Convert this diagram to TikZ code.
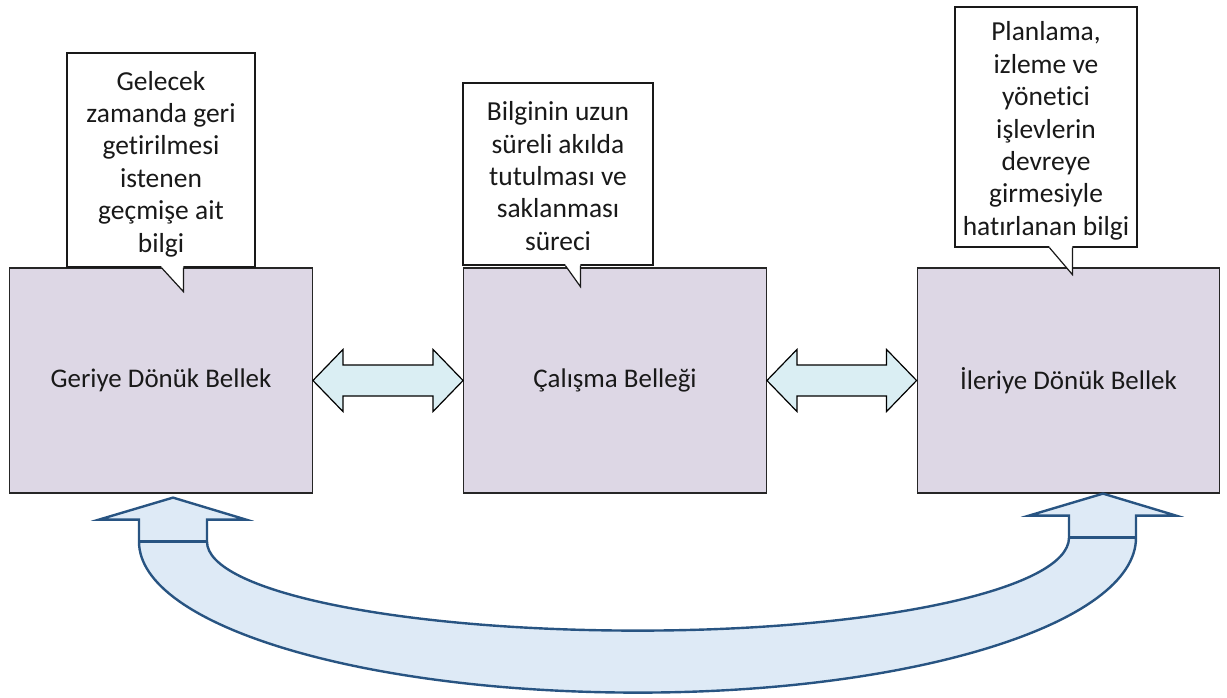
\documentclass[tikz,border=0pt]{standalone}
\usepackage{fontspec}
\setmainfont[Ligatures=NoCommon]{Carlito}
\usetikzlibrary{calc}
\definecolor{memfill}{RGB}{221,215,229}
\definecolor{linkfill}{RGB}{218,238,243}
\definecolor{loopfill}{RGB}{222,234,246}
\definecolor{loopline}{RGB}{40,84,130}
\begin{document}
\begin{tikzpicture}[x=0.75pt,y=-0.75pt,
  memory/.style={draw=black!85, line width=0.9pt, fill=memfill, inner sep=0pt,
    minimum width=227pt, minimum height=168.75pt, text=black!90,
    font=\fontsize{20.2}{24.4}\selectfont},
  note/.style={draw=black!90, line width=0.9pt, fill=white, inner sep=0pt},
  notetext/.style={align=center, text=black!90, inner sep=0pt,
    font=\fontsize{20.6}{24.3}\selectfont},
  pointer/.style={draw=black!90, line width=0.9pt, line join=miter},
  link/.style={draw=black, line width=0.9pt, fill=linkfill, line join=miter},
  loop/.style={draw=loopline, line width=1.8pt, fill=loopfill, line join=miter}]
\useasboundingbox (0,0) rectangle (1227,697);

% memory stores
\node[memory] (geri) at (161,380.5) {Geriye Dönük Bellek};
\node[memory] (calisma) at (615,380.5) {Çalışma Belleği};
\node[memory] (ileri) at (1068.5,380.5) {İleriye Dönük Bellek};

% callout frames
\node[note, minimum width=141pt, minimum height=160.5pt] (n1) at (161,160) {};
\node[note, minimum width=142.5pt, minimum height=136.5pt] (n2) at (558,174) {};
\node[note, minimum width=136.5pt, minimum height=180pt] (n3) at (1046,127) {};

% callout pointers
\foreach \n/\pl/\pr/\tip in {n1/95/117/24, n2/103/118/21, n3/95/118/27}{
  \fill[white] ($(\n.south west)+(\pl,-1.5)$) -- ($(\n.south west)+(\pr,-1.5)$)
    -- ($(\n.south west)+(\pr,\tip)$) -- ($(\n.south west)+(\pl,0)$) -- cycle;
  \draw[pointer] ($(\n.south west)+(\pl,0)$) -- ($(\n.south west)+(\pr,\tip)$)
    -- ($(\n.south west)+(\pr,0)$);
}

% callout texts
\node[notetext] (t1) at ($(n1.center)+(0,4)$)
  {Gelecek\\zamanda geri\\getirilmesi\\istenen\\geçmişe ait\\bilgi};
\node[notetext] (t2) at ($(n2.center)+(0,2)$)
  {Bilginin uzun\\süreli akılda\\tutulması ve\\saklanması\\süreci};
\node[notetext] (t3) at ($(n3.center)+(0,4)$)
  {Planlama,\\izleme ve\\yönetici\\işlevlerin\\devreye\\girmesiyle\\hatırlanan bilgi};

% two-way links between the stores
\draw[link] (geri.east) -- ++(30,-31) -- ++(0,15.5) -- ($(calisma.west)+(-30,-15.5)$)
  -- ++(0,-15.5) -- (calisma.west) -- ++(-30,31) -- ++(0,-15.5)
  -- ($(geri.east)+(30,15.5)$) -- ++(0,15.5) -- cycle;
\draw[link] (calisma.east) -- ++(30,-31) -- ++(0,15.5) -- ($(ileri.west)+(-30,-15.5)$)
  -- ++(0,-15.5) -- (ileri.west) -- ++(-30,31) -- ++(0,-15.5)
  -- ($(calisma.east)+(30,15.5)$) -- ++(0,15.5) -- cycle;

% curved two-headed loop under the stores
\coordinate (lt) at ($(geri.south)+(12,4)$);
\coordinate (rt) at ($(ileri.south)+(34.5,0)$);
\coordinate (im) at ($(lt)!0.5!(rt)+(0,135)$);
\coordinate (om) at ($(lt)!0.5!(rt)+(0,197)$);
\draw[loop] (lt) -- ++(73,22) -- ++(-39,0) -- ++(0,22)
  .. controls +(0,50) and +(-238,0) .. (im)
  .. controls +(238,0) and +(0,52) .. ($(rt)+(-34,44)$)
  -- ++(0,-22) -- ++(-40,0) -- (rt) -- ++(73,22) -- ++(-40,0) -- ++(0,22)
  .. controls +(0,86) and +(275,0) .. (om)
  .. controls +(-275,0) and +(0,84) .. ($(lt)+(-34,44)$)
  -- ++(0,-22) -- ++(-40,0) -- cycle;
\draw[loop, fill=none] ($(lt)+(-34,44)$) -- ++(68,0);
\draw[loop, fill=none] ($(rt)+(-34,44)$) -- ++(67,0);
\end{tikzpicture}
\end{document}
